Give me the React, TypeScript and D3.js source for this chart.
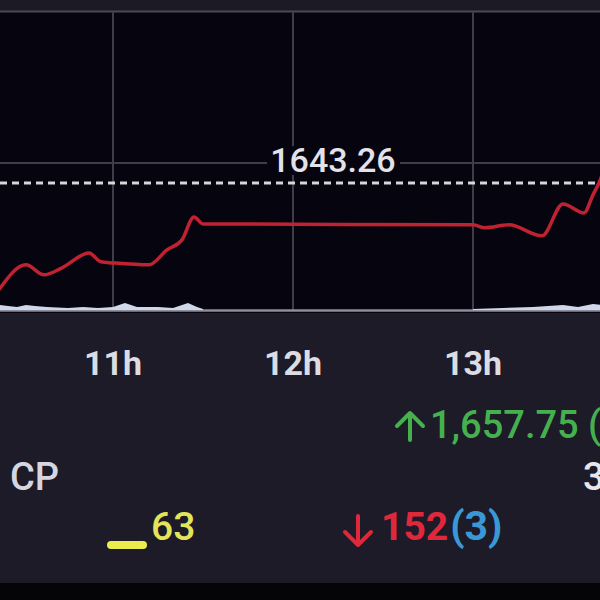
import React from "react";
import * as d3 from "d3";

const priceTimes = ["10:22","10:31","10:37","10:43","10:52","10:56","11:00","11:12","11:18","11:23","11:27","11:30","13:00","13:04","13:12","13:23","13:30","13:37","13:40","13:42","13:43"];
const prices = [1633.96,1636.13,1635.26,1635.87,1637.17,1636.39,1636.30,1636.13,1637.43,1638.30,1640.30,1639.69,1639.61,1639.35,1639.61,1638.65,1641.43,1640.65,1642.22,1643.26,1643.9];

const volTimes = ["10:22","10:25","10:28","10:31","10:34","10:38","10:45","10:50","10:55","11:00","11:04","11:08","11:15","11:20","11:25","11:28","11:30","13:00","13:10","13:20","13:25","13:30","13:35","13:40","13:43"];
const volumes = [5,4,3,5,4,3,2,3,2,3,7,3,3,2,7,3,1,1,2,3,4,5,3,6,5];

const prevClose = 1643.26;
const gridPrices = [1645];
const highLabel = "1,657.75 (";
const leftLabel = "CP";
const rightCut = "3";
const flatCount = "63";
const downCount = "152";
const downExtra = "(3)";

const W = 600;
const H = 600;
const parse = (s: string) => {
  const [h, m] = s.split(":").map(Number);
  return new Date(2020, 0, 1, h, m, 0);
};

export default function App() {
  const x = d3.scaleTime()
    .domain([new Date(2020, 0, 1, 10, 22, 20), new Date(2020, 0, 1, 13, 42, 20)])
    .range([0, W]);
  const y = d3.scaleLinear().domain([1632.2, 1658.13]).range([310, 12]);
  const yv = d3.scaleLinear().domain([0, 10]).range([310, 300]);

  const pts = priceTimes.map((t, i) => ({ t: parse(t), p: prices[i] }));
  const line = d3.line<{ t: Date; p: number }>().x(d => x(d.t)).y(d => y(d.p)).curve(d3.curveMonotoneX);

  const vpts = volTimes.map((t, i) => ({ t: parse(t), v: volumes[i] }));
  const morning = vpts.filter(d => d.t <= parse("11:30"));
  const afternoon = vpts.filter(d => d.t >= parse("13:00"));
  const area = d3.area<{ t: Date; v: number }>().x(d => x(d.t)).y0(yv(0)).y1(d => yv(d.v));

  const ticks = x.ticks(d3.timeHour.every(1)!);
  const fmt = d3.timeFormat("%-Hh");
  const font = "Roboto, 'Noto Sans', sans-serif";
  const green = "#46b04f";
  const red = "#e0283c";

  return (
    <svg width={W} height={H} style={{ position: "absolute", left: 0, top: 0, display: "block" }}>
      <rect x={0} y={0} width={W} height={H} fill="#1c1b27" />
      <rect x={0} y={0} width={W} height={11} fill="#1b1a25" />
      <rect x={0} y={12} width={W} height={301} fill="#06050f" />
      <line x1={0} x2={W} y1={11.5} y2={11.5} stroke="#4a4a56" strokeWidth={2} />
      {gridPrices.map(g => (
        <line key={g} x1={0} x2={W} y1={y(g)} y2={y(g)} stroke="#3e3e4a" strokeWidth={2} />
      ))}
      {ticks.map(t => (
        <line key={+t} x1={x(t)} x2={x(t)} y1={12} y2={311} stroke="#3e3e4a" strokeWidth={2} />
      ))}
      <rect x={267} y={146} width={133} height={29} fill="#06050f" />
      <text x={333} y={172} textAnchor="middle" fill="#e2e2e8" fontFamily={font} fontWeight={500} fontSize={34}>
        {prevClose.toFixed(2)}
      </text>
      <line x1={0} x2={W} y1={y(prevClose)} y2={y(prevClose)} stroke="#d6d6da" strokeWidth={3} strokeDasharray="7 5" />
      <line x1={0} x2={W} y1={310.5} y2={310.5} stroke="#8e8e9c" strokeWidth={2.5} />
      <path d={area(morning) || ""} fill="#cfd8ea" />
      <path d={area(afternoon) || ""} fill="#cfd8ea" />
      <path d={line(pts) || ""} fill="none" stroke="#c02232" strokeWidth={3.5} strokeLinejoin="round" />

      {ticks.map(t => (
        <text key={"l" + +t} x={x(t)} y={375} textAnchor="middle" fill="#dcdce2" fontFamily={font} fontWeight={700} fontSize={34}>
          {fmt(t)}
        </text>
      ))}

      <path d="M410,440 L410,413 M397,426 L410,413 L423,426" fill="none" stroke={green} strokeWidth={4} strokeLinecap="round" strokeLinejoin="round" />
      <text x={430} y={438} fill={green} fontFamily={font} fontWeight={500} fontSize={38}>{highLabel}</text>
      <text x={10} y={490} fill="#d6d6e0" fontFamily={font} fontWeight={500} fontSize={38}>{leftLabel}</text>
      <text x={583} y={490} fill="#e6e6ec" fontFamily={font} fontWeight={500} fontSize={38}>{rightCut}</text>

      <rect x={107} y={541} width={40} height={8} rx={4} fill="#ecec4a" />
      <text x={151} y={540} fill="#e4e45c" fontFamily={font} fontWeight={500} fontSize={39}>{flatCount}</text>

      <path d="M358,516 L358,545 M345,532 L358,545 L371,532" fill="none" stroke={red} strokeWidth={4} strokeLinecap="round" strokeLinejoin="round" />
      <text x={381} y={540} fill={red} fontFamily={font} fontWeight={700} fontSize={39}>
        <tspan>{downCount}</tspan>
        <tspan dx={2} fill="#3a98d6" fontWeight={700} fontSize={41}>{downExtra}</tspan>
      </text>

      <rect x={0} y={583} width={W} height={17} fill="#050508" />
    </svg>
  );
}
